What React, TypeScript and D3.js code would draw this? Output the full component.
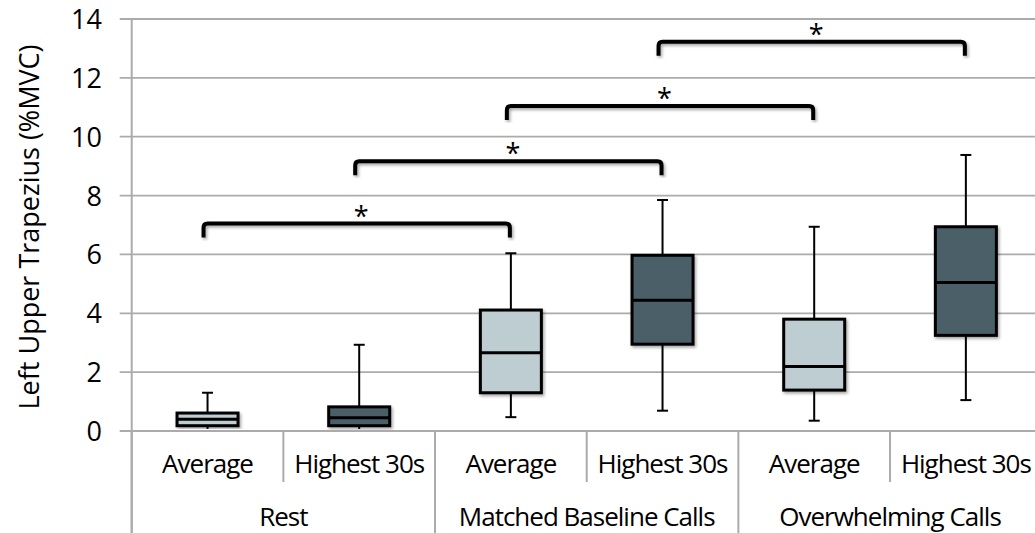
import React, { useRef, useEffect } from "react";
import * as d3 from "d3";

// values
const subLabels = ["Average", "Highest 30s", "Average", "Highest 30s", "Average", "Highest 30s"];
const groupLabels = ["Rest", "Matched Baseline Calls", "Overwhelming Calls"];
const minVals = [0.07, 0.07, 0.47, 0.69, 0.35, 1.05];
const q1Vals = [0.18, 0.18, 1.3, 2.95, 1.39, 3.25];
const medVals = [0.4, 0.45, 2.66, 4.44, 2.19, 5.05];
const q3Vals = [0.61, 0.82, 4.11, 5.97, 3.8, 6.94];
const maxVals = [1.3, 2.93, 6.04, 7.85, 6.94, 9.38];
const bracketFrom = [0, 1, 2, 3];
const bracketTo = [2, 3, 4, 5];
const bracketLevel = [7.05, 9.17, 11.04, 13.23];
const yTicks = [0, 2, 4, 6, 8, 10, 12, 14];

const W = 1035;
const H = 533;
const FONT = "'Open Sans', sans-serif";

function BoxChart() {
  const ref = useRef<SVGSVGElement>(null);

  useEffect(() => {
    const svg = d3.select(ref.current);
    svg.selectAll("*").remove();

    const defs = svg.append("defs");
    defs
      .append("filter")
      .attr("id", "shadow")
      .attr("x", "-20%")
      .attr("y", "-20%")
      .attr("width", "140%")
      .attr("height", "140%")
      .append("feDropShadow")
      .attr("dx", 1.5)
      .attr("dy", 2)
      .attr("stdDeviation", 1.5)
      .attr("flood-color", "#000")
      .attr("flood-opacity", 0.35);

    const left = 131.7;
    const right = 1041.7;
    const top = 19;
    const bottom = 431;

    const x = d3
      .scaleBand<number>()
      .domain(d3.range(subLabels.length))
      .range([left, right])
      .padding(0);

    const y = d3.scaleLinear().domain([0, 14]).range([bottom, top]);

    const grid = "#ababab";

    // gridlines + ticks
    svg
      .append("g")
      .selectAll("line")
      .data(yTicks)
      .join("line")
      .attr("x1", left - 12)
      .attr("x2", right)
      .attr("y1", (d) => y(d))
      .attr("y2", (d) => y(d))
      .attr("stroke", grid)
      .attr("stroke-width", 1.8);

    // y axis line
    svg
      .append("line")
      .attr("x1", left)
      .attr("x2", left)
      .attr("y1", top)
      .attr("y2", H)
      .attr("stroke", grid)
      .attr("stroke-width", 2);

    // y tick labels
    svg
      .append("g")
      .selectAll("text")
      .data(yTicks)
      .join("text")
      .attr("x", 102)
      .attr("y", (d) => y(d) + 10)
      .attr("text-anchor", "end")
      .attr("font-family", FONT)
      .attr("font-size", 27)
      .attr("fill", "#000")
      .text((d) => d);

    // y title
    svg
      .append("text")
      .attr("transform", `translate(39,${(top + bottom) / 2 + 2}) rotate(-90)`)
      .attr("text-anchor", "middle")
      .attr("font-family", FONT)
      .attr("font-size", 27)
      .attr("fill", "#000")
      .text("Left Upper Trapezius (%MVC)");

    // category dividers
    const bw = x.bandwidth();
    d3.range(subLabels.length + 1).forEach((i) => {
      const xx = left + i * bw;
      const isGroup = i % 2 === 0;
      svg
        .append("line")
        .attr("x1", xx)
        .attr("x2", xx)
        .attr("y1", bottom)
        .attr("y2", isGroup ? H : 482)
        .attr("stroke", grid)
        .attr("stroke-width", 2);
    });

    // sub labels
    svg
      .append("g")
      .selectAll("text")
      .data(subLabels)
      .join("text")
      .attr("x", (_, i) => x(i)! + bw / 2)
      .attr("y", 473)
      .attr("text-anchor", "middle")
      .attr("font-family", FONT)
      .attr("font-size", 26)
      .attr("letter-spacing", -1)
      .attr("fill", "#000")
      .text((d) => d);

    // group labels
    svg
      .append("g")
      .selectAll("text")
      .data(groupLabels)
      .join("text")
      .attr("x", (_, i) => x(i * 2)! + bw)
      .attr("y", 526)
      .attr("text-anchor", "middle")
      .attr("font-family", FONT)
      .attr("font-size", 26)
      .attr("letter-spacing", -1)
      .attr("fill", "#000")
      .text((d) => d);

    // boxes
    const boxW = 61;
    const capW = 11;
    const colors = ["#bdcdd1", "#4b5f68"];
    const boxes = svg
      .append("g")
      .selectAll("g")
      .data(subLabels.map((_, i) => i))
      .join("g")
      .attr("transform", (i) => `translate(${x(i)! + bw / 2},0)`);

    boxes
      .append("line")
      .attr("y1", (i) => y(maxVals[i]))
      .attr("y2", (i) => y(q3Vals[i]))
      .attr("stroke", "#000")
      .attr("stroke-width", 2);
    boxes
      .append("line")
      .attr("y1", (i) => y(minVals[i]))
      .attr("y2", (i) => y(q1Vals[i]))
      .attr("stroke", "#000")
      .attr("stroke-width", 2);
    boxes
      .filter((i) => minVals[i] > 0.2)
      .append("line")
      .attr("x1", -capW / 2)
      .attr("x2", capW / 2)
      .attr("y1", (i) => y(minVals[i]))
      .attr("y2", (i) => y(minVals[i]))
      .attr("stroke", "#000")
      .attr("stroke-width", 2);
    boxes
      .append("line")
      .attr("x1", -capW / 2)
      .attr("x2", capW / 2)
      .attr("y1", (i) => y(maxVals[i]))
      .attr("y2", (i) => y(maxVals[i]))
      .attr("stroke", "#000")
      .attr("stroke-width", 2);
    boxes
      .append("rect")
      .attr("x", -boxW / 2)
      .attr("width", boxW)
      .attr("y", (i) => y(q3Vals[i]))
      .attr("height", (i) => y(q1Vals[i]) - y(q3Vals[i]))
      .attr("fill", (i) => colors[i % 2])
      .attr("stroke", "#000")
      .attr("stroke-width", 3)
      .attr("filter", "url(#shadow)");
    boxes
      .append("line")
      .attr("x1", -boxW / 2)
      .attr("x2", boxW / 2)
      .attr("y1", (i) => y(medVals[i]))
      .attr("y2", (i) => y(medVals[i]))
      .attr("stroke", "#000")
      .attr("stroke-width", 3);

    // significance brackets
    const drop = 14;
    const br = svg
      .append("g")
      .selectAll("g")
      .data(bracketLevel.map((_, i) => i))
      .join("g");
    br.append("path")
      .attr("d", (i) => {
        const x0 = x(bracketFrom[i])! + bw / 2 - 4;
        const x1 = x(bracketTo[i])! + bw / 2 - 1;
        const yy = y(bracketLevel[i]);
        const r = 4;
        return `M${x0},${yy + drop} V${yy + r} Q${x0},${yy} ${x0 + r},${yy} H${x1 - r} Q${x1},${yy} ${x1},${yy + r} V${yy + drop}`;
      })
      .attr("fill", "none")
      .attr("stroke", "#000")
      .attr("stroke-width", 4)
      .attr("filter", "url(#shadow)");
    br.append("text")
      .attr("x", (i) => (x(bracketFrom[i])! + x(bracketTo[i])!) / 2 + bw / 2 + 2)
      .attr("y", (i) => y(bracketLevel[i]) + 2)
      .attr("text-anchor", "middle")
      .attr("font-family", FONT)
      .attr("font-size", 27)
      .attr("fill", "#000")
      .text("*");
  }, []);

  return <svg ref={ref} width={W} height={H} style={{ position: "absolute", left: 0, top: 0, background: "#fff" }}></svg>;
}

export default function App() {
  return <BoxChart />;
}
